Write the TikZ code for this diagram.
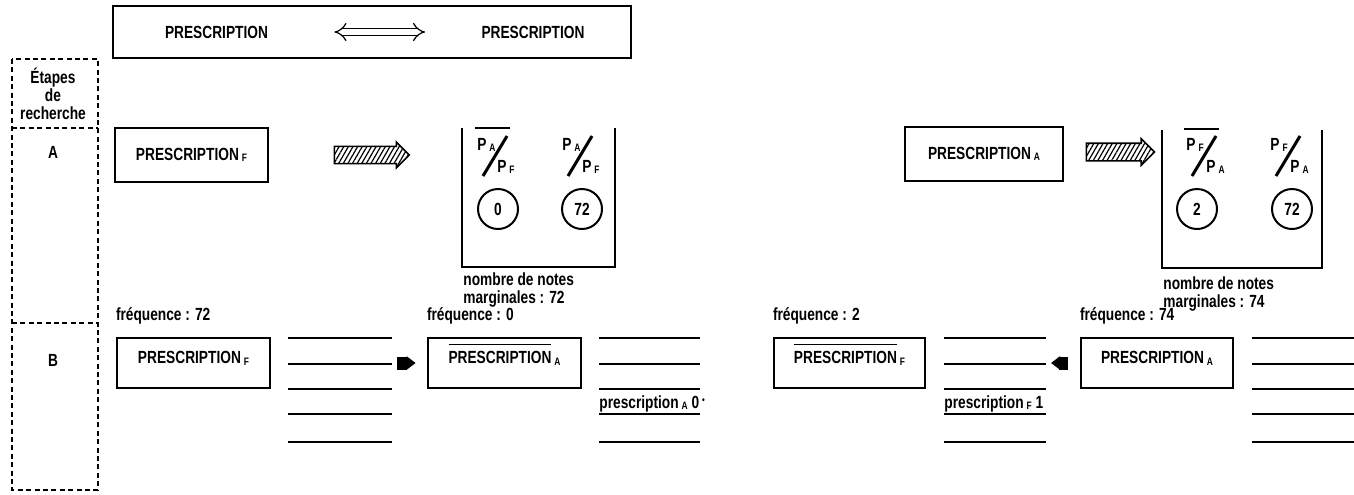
\documentclass[tikz,border=0pt]{standalone}
\usepackage{fontspec}
\setmainfont{Liberation Sans}[FakeStretch=0.78]
\usetikzlibrary{positioning,shapes.arrows,patterns.meta,arrows.meta}

\newcommand{\lbl}{\bfseries\fontsize{8.8}{9}\selectfont}
\newcommand{\sub}[1]{\,\raisebox{-0.8pt}{\fontsize{5.4}{6}\selectfont #1}}
\newcommand{\overbar}[1]{\setbox0\hbox{#1}\rlap{\rule[\dimexpr\ht0+3pt\relax]{\wd0}{0.5pt}}\box0}

\tikzstyle{txt} = [font=\lbl, inner sep=0pt]
\tikzstyle{presbox} = [draw, line width=1.4pt, font=\lbl, minimum height=27pt]
\tikzstyle{notebox} = [presbox, inner sep=3pt, text height=9.7pt, text depth=9.3pt, minimum height=25pt]
\tikzstyle{freq} = [txt, anchor=south west]
\tikzstyle{hatch} = [single arrow, draw, line width=0.8pt, inner xsep=0pt, inner ysep=4pt, minimum height=37.5pt, single arrow head extend=2.2pt, pattern={Lines[angle=60,distance=2pt,line width=0.6pt]}]
\tikzstyle{tally} = [circle, draw, line width=1pt, minimum size=20pt, inner sep=0pt, font=\lbl]
\tikzstyle{rule line} = [draw, line width=1pt]
\tikzstyle{open box} = [draw, line width=1.4pt]
\tikzstyle{stepframe} = [draw, line width=1pt, dash pattern=on 2.5pt off 1.7pt]
\tikzstyle{slash} = [draw, line width=1.5pt]
\tikzstyle{pointer} = [line width=6.5pt, -{Triangle[length=4.5pt,width=6.5pt]}]
\tikzstyle{equivarrow} = [double, double distance=2.6pt, line width=0.6pt, {Implies}-{Implies}]

\begin{document}
\begin{tikzpicture}[x=0.5pt,y=-0.5pt]
  \useasboundingbox (0,0) rectangle (1354,494);
  % header
  \node[presbox, minimum width=259pt, minimum height=26pt] (header) at (372,32) {};
  \node[txt] (presL) at (216.5,32) {PRESCRIPTION};
  \node[txt] (presR) at (533,32) {PRESCRIPTION};
  \draw[equivarrow, shorten <=33pt, shorten >=28pt] (presL) -- (presR);

  % research steps
  \draw[stepframe] (12,59) rectangle (98,490);
  \draw[stepframe] (12,128) -- (98,128);
  \draw[stepframe] (12,323) -- (98,323);
  \node[txt, align=center] (etapes) at (53,94) {Étapes\\de\\recherche};
  \node[txt] (stepA) at (53,152) {A};
  \node[txt] (stepB) at (53,360) {B};

  % step A
  \node[presbox, minimum width=76.5pt] (prF) at (191.5,155) {PRESCRIPTION\sub{F}};
  \node[presbox, minimum width=79pt] (prA) at (984,154) {PRESCRIPTION\sub{A}};
  \node[hatch] (hatchF) at (367.5,155) {};
  \node[hatch, minimum height=34pt] (hatchA) at (1116,152) {};
  \draw[open box] (462,128) -- (462,267) -- (615,267) -- (615,128);
  \draw[open box] (1162,130) -- (1162,268) -- (1322,268) -- (1322,130);
  \foreach \fname/\fx/\cx/\up/\dn/\n in {
    fa/495/498/A/F/0, fb/580/582/A/F/72, fc/1204/1197/F/A/2, fd/1288/1292/F/A/72}
  {
    \node[txt, anchor=base west] (\fname-up) at ({\fx-18},150) {P\sub{\up}};
    \node[txt, anchor=base west] (\fname-dn) at ({\fx+2},172) {P\sub{\dn}};
    \draw[slash] ({\fx-12},176) -- ({\fx+12},136);
    \node[tally] (\fname-n) at (\cx,209) {\n};
  };
  \draw[rule line] (475,128) -- (510,128);
  \draw[rule line] (1184,129) -- (1219,129);
  \node[txt, anchor=north west, align=left] (notesF) at (463,272) {nombre de notes\\marginales : 72};
  \node[txt, anchor=north west, align=left] (notesA) at (1163,276) {nombre de notes\\marginales : 74};

  % step B
  \node[notebox, minimum width=76.5pt] (b1) at (193.5,363) {PRESCRIPTION\sub{F}};
  \node[notebox, minimum width=76.5pt] (b2) at (504.5,363) {\overbar{PRESCRIPTION}\sub{A}};
  \node[notebox, minimum width=75.5pt] (b3) at (849.5,363) {\overbar{PRESCRIPTION}\sub{F}};
  \node[notebox, minimum width=76pt] (b4) at (1157,363) {PRESCRIPTION\sub{A}};
  \foreach \bname/\f in {b1/72, b2/0, b3/2, b4/74}
    \node[freq, above right=6pt and 0pt of \bname.north west] (\bname-freq) {fréquence : \f};
  \foreach \xa/\xb in {288/392, 599/700, 944/1046, 1252/1354}
    \foreach \y in {338,364,389,414,442}
      \draw[rule line] (\xa,\y) -- (\xb,\y);
  \coordinate (g1e) at (392,363);
  \coordinate (g3e) at (1046,363);
  \draw[pointer, shorten <=2.5pt, shorten >=5.5pt] (g1e) -- (b2.west);
  \draw[pointer, shorten <=6pt, shorten >=2.5pt] (b4.west) -- (g3e);
  \node[txt, anchor=base west] (noteA) at (599,408) {prescription\sub{A} 0\,\raisebox{2.5pt}{\fontsize{5}{5}\selectfont •}};
  \node[txt, anchor=base west] (noteF) at (944,408) {prescription\sub{F} 1};
\end{tikzpicture}
\end{document}
